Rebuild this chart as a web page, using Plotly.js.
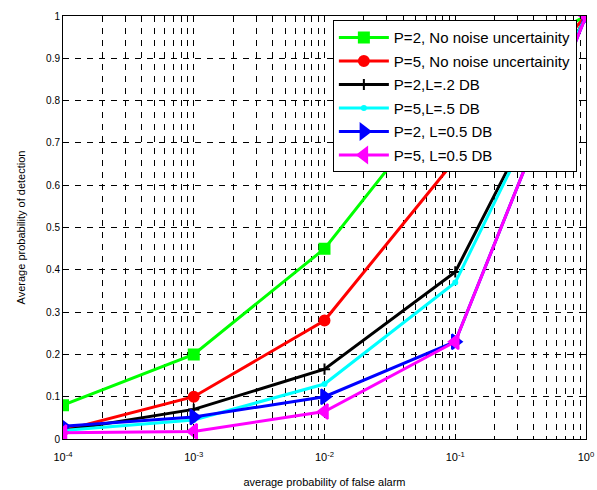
<!DOCTYPE html>
<html>
<head>
<meta charset="utf-8">
<script src="https://cdn.plot.ly/plotly-3.0.1.min.js"></script>
<style>html,body{margin:0;padding:0;background:#fff;}#chart{width:597px;height:490px;}</style>
</head>
<body>
<div id="chart"></div>
<script>
// Data
const pfa = [1e-4, 1e-3, 1e-2, 1e-1, 1];
const seriesNames = [
  'P=2, No noise uncertainity',
  'P=5, No noise uncertainity',
  'P=2,L=.2 DB',
  'P=5,L=.5 DB',
  'P=2, L=0.5 DB',
  'P=5, L=0.5 DB'
];
const pdGreen   = [0.08, 0.20, 0.45, 0.84, 1.0];
const pdRed     = [0.02, 0.10, 0.28, 0.66, 1.0];
const pdBlack   = [0.02, 0.07, 0.165, 0.395, 1.0];
const pdCyan    = [0.02, 0.045, 0.13, 0.37, 1.0];
const pdBlue    = [0.03, 0.052, 0.10, 0.23, 1.0];
const pdMagenta = [0.015, 0.018, 0.065, 0.23, 1.0];
const xTickVals = [1e-4, 1e-3, 1e-2, 1e-1, 1];
const xTickText = ['10<sup>-4</sup>', '10<sup>-3</sup>', '10<sup>-2</sup>', '10<sup>-1</sup>', '10<sup>0</sup>'];
const yTickVals = [0, 0.1, 0.2, 0.3, 0.4, 0.5, 0.6, 0.7, 0.8, 0.9, 1];
const yTickText = ['0', '0.1', '0.2', '0.3', '0.4', '0.5', '0.6', '0.7', '0.8', '0.9', '1'];

const minorVals = [];
for (let e = -4; e < 0; e++) for (let m = 2; m <= 9; m++) minorVals.push(m * Math.pow(10, e));

const styles = [
  {color: '#00ff00', symbol: 'square', size: 10},
  {color: '#ff0000', symbol: 'circle', size: 10},
  {color: '#000000', symbol: 'cross-thin', size: 8},
  {color: '#00ffff', symbol: 'circle', size: 4},
  {color: '#0000ff', symbol: 'triangle-right', size: 13},
  {color: '#ff00ff', symbol: 'triangle-left', size: 13}
];
const ys = [pdGreen, pdRed, pdBlack, pdCyan, pdBlue, pdMagenta];

const traces = ys.map((y, i) => ({
  x: pfa, y: y, name: seriesNames[i], type: 'scatter', mode: 'lines+markers',
  legendgroup: 'g' + i,
  line: {color: styles[i].color, width: 3},
  marker: {color: styles[i].color, symbol: styles[i].symbol, size: styles[i].size,
           line: {color: styles[i].color, width: 2}}
}));

const font = 'Liberation Sans, Arial, sans-serif';
const gridDash = '6px,6px';
const layout = {
  width: 597, height: 490,
  margin: {l: 63, r: 11, t: 16, b: 51},
  paper_bgcolor: '#fff', plot_bgcolor: '#fff',
  font: {family: font, size: 10, color: '#000'},
  showlegend: true,
  legend: {
    x: 0.516, y: 0.99, xanchor: 'left', yanchor: 'top',
    bgcolor: '#fff', bordercolor: '#000', borderwidth: 1,
    font: {family: font, size: 15, color: '#000'},
    itemwidth: 50, tracegroupgap: 1, entrywidth: 251, entrywidthmode: 'pixels'
  },
  xaxis: {
    type: 'log', range: [-4, 0], tickmode: 'array', tickvals: xTickVals, ticktext: xTickText,
    showline: true, linecolor: '#000', linewidth: 1, mirror: 'ticks',
    ticks: 'inside', ticklen: 5, tickcolor: '#000', ticklabelstandoff: 8,
    showgrid: true, gridcolor: '#000', gridwidth: 1, griddash: gridDash,
    minor: {tickmode: 'array', tickvals: minorVals, ticks: 'inside', ticklen: 3, tickcolor: '#000',
            showgrid: true, gridcolor: '#000', gridwidth: 1, griddash: gridDash},
    zeroline: false,
    tickfont: {family: font, size: 11},
    title: {text: 'average probability of false alarm', font: {family: font, size: 11}, standoff: 16}
  },
  yaxis: {
    range: [0, 1], tickmode: 'array', tickvals: yTickVals, ticktext: yTickText,
    showline: true, linecolor: '#000', linewidth: 1, mirror: 'ticks',
    ticks: 'inside', ticklen: 5, tickcolor: '#000',
    showgrid: true, gridcolor: '#000', gridwidth: 1, griddash: gridDash,
    zeroline: false,
    tickfont: {family: font, size: 10},
    title: {text: 'Average probability of detection', font: {family: font, size: 11}, standoff: 18}
  }
};

Plotly.newPlot('chart', traces, layout, {displayModeBar: false, staticPlot: true});
</script>
</body>
</html>
